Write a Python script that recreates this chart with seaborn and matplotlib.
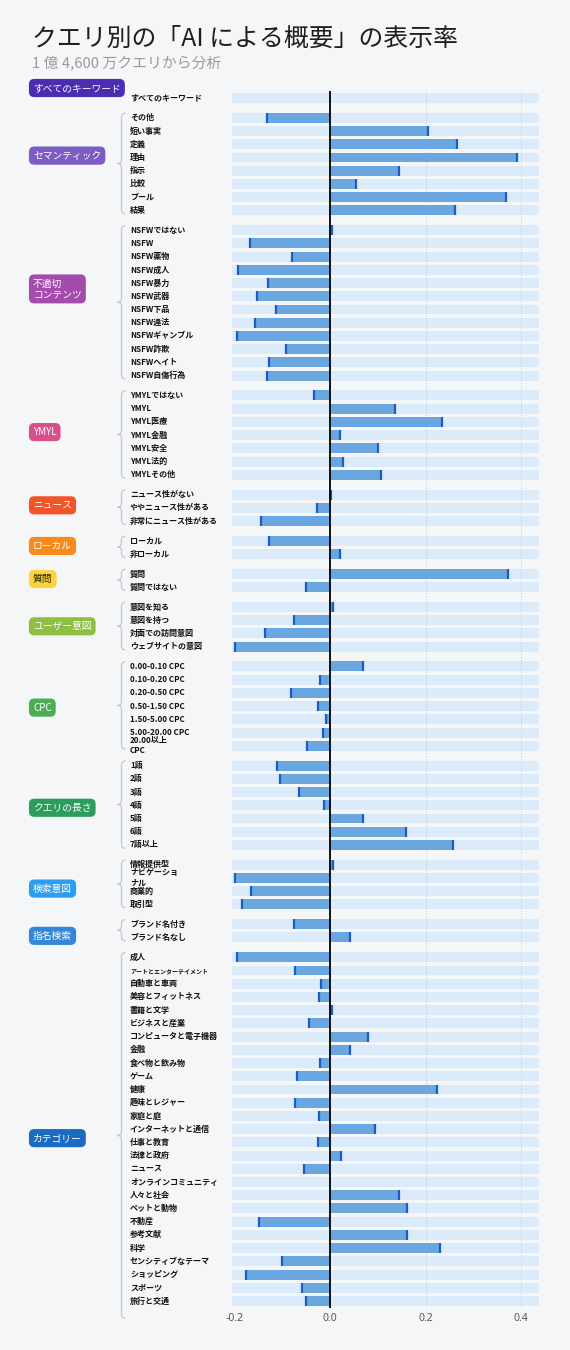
import matplotlib
matplotlib.use("Agg")
import matplotlib.pyplot as plt
import matplotlib.transforms as mtransforms
from matplotlib.path import Path
from matplotlib.patches import PathPatch
import numpy as np
import pandas as pd
import seaborn as sns

# ---------------- data ----------------
group_names = ["すべてのキーワード", "セマンティック", "不適切\nコンテンツ", "YMYL", "ニュース",
               "ローカル", "質問", "ユーザー意図", "CPC", "クエリの長さ", "検索意図",
               "指名検索", "カテゴリー"]
group_colors = ["#4a2db0", "#7d5cc4", "#a34cae", "#d6508b", "#f2542a", "#f88a1c",
                "#f9d43a", "#8cbf42", "#4cad55", "#2c9d5c", "#2b9ef0", "#3386d8", "#1c6bc0"]
group_text_colors = ["white"] * 6 + ["#2b2100"] + ["white"] * 6

items_all = ["すべてのキーワード"]
vals_all = [0.0]
items_sem = ["その他", "短い事実", "定義", "理由", "指示", "比較", "ブール", "結果"]
vals_sem = [-0.131, 0.205, 0.266, 0.392, 0.145, 0.055, 0.368, 0.261]
items_nsfw = ["NSFWではない", "NSFW", "NSFW薬物", "NSFW成人", "NSFW暴力", "NSFW武器",
              "NSFW下品", "NSFW違法", "NSFWギャンブル", "NSFW詐欺", "NSFWヘイト", "NSFW自傷行為"]
vals_nsfw = [0.005, -0.168, -0.080, -0.192, -0.129, -0.153, -0.112, -0.156, -0.194,
             -0.092, -0.128, -0.131]
items_ymyl = ["YMYLではない", "YMYL", "YMYL医療", "YMYL金融", "YMYL安全", "YMYL法的", "YMYLその他"]
vals_ymyl = [-0.034, 0.137, 0.234, 0.021, 0.101, 0.027, 0.107]
items_news = ["ニュース性がない", "ややニュース性がある", "非常にニュース性がある"]
vals_news = [0.003, -0.027, -0.144]
items_local = ["ローカル", "非ローカル"]
vals_local = [-0.128, 0.020]
items_q = ["質問", "質問ではない"]
vals_q = [0.373, -0.050]
items_intent = ["意図を知る", "意図を持つ", "対面での訪問意図", "ウェブサイトの意図"]
vals_intent = [0.006, -0.076, -0.135, -0.198]
items_cpc = ["0.00-0.10 CPC", "0.10-0.20 CPC", "0.20-0.50 CPC", "0.50-1.50 CPC",
             "1.50-5.00 CPC", "5.00-20.00 CPC", "20.00以上\nCPC"]
vals_cpc = [0.069, -0.020, -0.082, -0.024, -0.009, -0.015, -0.048]
items_len = ["1語", "2語", "3語", "4語", "5語", "6語", "7語以上"]
vals_len = [-0.111, -0.105, -0.064, -0.013, 0.069, 0.159, 0.257]
items_si = ["情報提供型", "ナビゲーショ\nナル", "商業的", "取引型"]
vals_si = [0.006, -0.198, -0.165, -0.185]
items_brand = ["ブランド名付き", "ブランド名なし"]
vals_brand = [-0.076, 0.042]
items_cat = ["成人", "アートとエンターテイメント", "自動車と車両", "美容とフィットネス", "書籍と文学",
             "ビジネスと産業", "コンピュータと電子機器", "金融", "食べ物と飲み物", "ゲーム", "健康",
             "趣味とレジャー", "家庭と庭", "インターネットと通信", "仕事と教育", "法律と政府", "ニュース",
             "オンラインコミュニティ", "人々と社会", "ペットと動物", "不動産", "参考文献", "科学",
             "センシティブなテーマ", "ショッピング", "スポーツ", "旅行と交通"]
vals_cat = [-0.195, -0.073, -0.018, -0.022, 0.005, -0.043, 0.079, 0.041, -0.020, -0.069,
            0.224, -0.073, -0.022, 0.095, -0.026, 0.023, -0.055, 0.0, 0.145, 0.161,
            -0.148, 0.161, 0.230, -0.101, -0.176, -0.058, -0.050]

x_ticks = [-0.2, 0.0, 0.2, 0.4]
x_tick_labels = ["-0.2", "0.0", "0.2", "0.4"]

title = "クエリ別の「AI による概要」の表示率"
subtitle = "1 億 4,600 万クエリから分析"

group_items = [items_all, items_sem, items_nsfw, items_ymyl, items_news, items_local, items_q,
               items_intent, items_cpc, items_len, items_si, items_brand, items_cat]
group_vals = [vals_all, vals_sem, vals_nsfw, vals_ymyl, vals_news, vals_local, vals_q,
              vals_intent, vals_cpc, vals_len, vals_si, vals_brand, vals_cat]

# ---------------- layout ----------------
W, H = 570, 1350
ROW_PX = 13.22
badge_offset_px = [-10, -8.5, -14, -3, -2.5, -1.5, -1.5, -0.5, 1.5, 2.5, 4, 5, 9]

rows = []
pos = 0.0
group_span = []
for gi, (its, vs) in enumerate(zip(group_items, group_vals)):
    start = pos
    for it, v in zip(its, vs):
        rows.append({"group": gi, "label": it, "value": v, "pos": pos})
        pos += 1
    group_span.append((start, pos - 1))
    pos += 0.5
df = pd.DataFrame(rows)
last_pos = df["pos"].max()

sns.set_theme(style="white")
plt.rcParams["font.family"] = ["Noto Sans CJK JP", "DejaVu Sans"]

BG = "#f4f6f8"
fig = plt.figure(figsize=(W / 100, H / 100), dpi=100, facecolor=BG)
ax_top_px, ax_bot_px = 91.4, 1307.6
ax = fig.add_axes([232 / W, 1 - ax_bot_px / H, 307 / W, (ax_bot_px - ax_top_px) / H])
ax.set_facecolor("none")

XMIN, XMAX = -0.205, 0.4375
BAR_H = 0.75

# background bands
ax.barh(df["pos"], width=XMAX - XMIN, left=XMIN, height=BAR_H, color="#dcebfa",
        zorder=1, linewidth=0)
# dotted grid
for gx in [0.2, 0.4]:
    ax.axvline(gx, color="#b9c6d3", linestyle=(0, (1, 2)), linewidth=0.7, zorder=1.5)

# data bars
sns.barplot(data=df, x="value", y="pos", orient="y", native_scale=True, width=BAR_H,
            color="#6aa6e0", saturation=1, errorbar=None, ax=ax, zorder=2, linewidth=0)
nz = df[df["value"] != 0]
ax.vlines(nz["value"], nz["pos"] - BAR_H / 2, nz["pos"] + BAR_H / 2, color="#1d5cc0",
          linewidth=1.6, zorder=3)
ax.axvline(0, color="black", linewidth=1.3, zorder=4)

ax.set_xlim(XMIN, XMAX)
ax.set_ylim(last_pos + 0.5, -0.5)
ax.set_yticks([])
ax.set_ylabel("")
ax.set_xlabel("")
ax.set_xticks(x_ticks)
ax.set_xticklabels(x_tick_labels, fontsize=7.5, color="#555555", family=["Noto Sans", "DejaVu Sans"])
ax.tick_params(axis="x", length=0, pad=4)
for s in ax.spines.values():
    s.set_visible(False)

trans = mtransforms.blended_transform_factory(fig.transFigure, ax.transData)

# item labels
for _, r in df.iterrows():
    n_wide = sum(1 for ch in r["label"] if ord(ch) > 127)
    fs = 5.8 if n_wide <= 11 else 4.3
    ax.text(130 / W, r["pos"], r["label"], transform=trans, ha="left", va="center",
            fontsize=fs, fontweight="bold", color="#111111", linespacing=1.15)

# brackets + badges
x_line, x_hook, x_notch = 121.5 / W, 125.5 / W, 117.5 / W
for gi, (a, b) in enumerate(group_span):
    center = (a + b) / 2
    if b > a:
        yt = a - 0.35
        yb = b + (1.3 if gi == len(group_span) - 1 else 0.25)
        ym = (yt + yb) / 2
        verts = [(x_hook, yt), (x_line, yt), (x_line, yt + 0.3),
                 (x_line, ym - 0.3), (x_line, ym), (x_notch, ym),
                 (x_line, ym), (x_line, ym + 0.3),
                 (x_line, yb - 0.3), (x_line, yb), (x_hook, yb)]
        codes = [Path.MOVETO, Path.CURVE3, Path.CURVE3,
                 Path.LINETO, Path.CURVE3, Path.CURVE3,
                 Path.CURVE3, Path.CURVE3,
                 Path.LINETO, Path.CURVE3, Path.CURVE3]
        patch = PathPatch(Path(verts, codes), transform=trans, fill=False,
                          edgecolor="#c4c7cc", linewidth=0.9, clip_on=False)
        fig.add_artist(patch)
    by = center + badge_offset_px[gi] / ROW_PX
    fig.text(33 / W, 0, group_names[gi], transform=trans, ha="left", va="center",
             fontsize=7, color=group_text_colors[gi], linespacing=1.1,
             bbox=dict(boxstyle="round,pad=0.42,rounding_size=0.55",
                       fc=group_colors[gi], ec="none")).set_y(by)

# title & subtitle
fig.text(32 / W, 1 - 38.5 / H, title, ha="left", va="center", fontsize=17.9, color="#1e1e1e")
fig.text(32 / W, 1 - 64 / H, subtitle, ha="left", va="center", fontsize=10.7, color="#9a9a9a")

fig.savefig("out.png", dpi=100, facecolor=BG)
